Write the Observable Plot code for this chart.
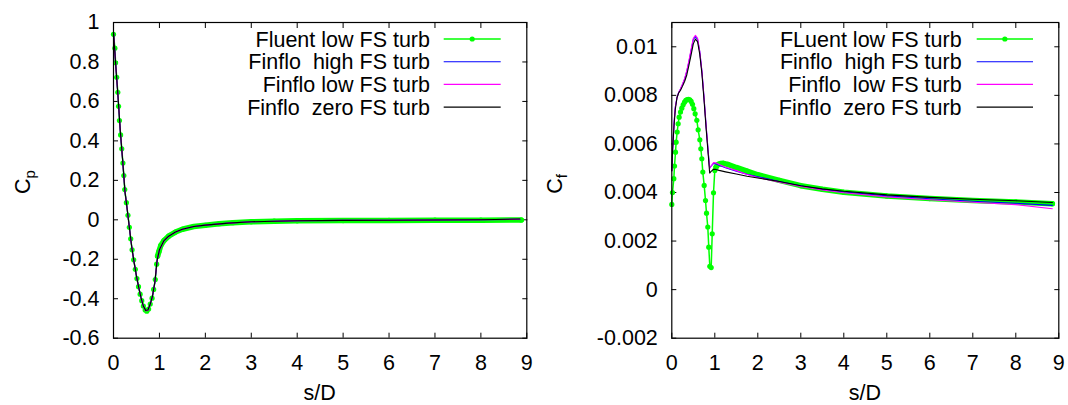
<!DOCTYPE html>
<html>
<head>
<meta charset="utf-8">
<script src="https://cdn.jsdelivr.net/npm/d3@7"></script>
<script src="https://cdn.jsdelivr.net/npm/@observablehq/plot@0.6"></script>
<style>
  html, body { margin: 0; padding: 0; background: #fff; }
  #charts { display: flex; width: 1068px; height: 405px; }
  svg text { white-space: pre; }
</style>
</head>
<body>
<div id="charts"></div>
<script>
// ---- axis ticks -------------------------------------------------------
const sTicks = [0, 1, 2, 3, 4, 5, 6, 7, 8, 9];
const cpTicks = [-0.6, -0.4, -0.2, 0, 0.2, 0.4, 0.6, 0.8, 1];
const cfTicks = [-0.002, 0, 0.002, 0.004, 0.006, 0.008, 0.01];

// ---- series names and colours -----------------------------------------
const cpNames = ["Fluent low FS turb", "Finflo  high FS turb", "Finflo low FS turb", "Finflo  zero FS turb"];
const cfNames = ["FLuent low FS turb", "Finflo  high FS turb", "Finflo  low FS turb", "Finflo  zero FS turb"];
const seriesColors = ["#00ff00", "#0000ff", "#ff00ff", "#000000"];

// ---- pressure coefficient, Fluent (low free-stream turbulence) -------
const fluentCpS = [0, 0.03, 0.045, 0.07, 0.094, 0.11, 0.13, 0.155, 0.18, 0.205,
  0.225, 0.245, 0.28, 0.315, 0.345, 0.375, 0.405, 0.44, 0.475, 0.51,
  0.545, 0.58, 0.615, 0.65, 0.69, 0.725, 0.765, 0.8, 0.84, 0.875,
  0.91, 0.94, 0.96, 0.99, 1.03, 1.1, 1.2, 1.35, 1.5, 1.75,
  2.0, 2.3, 2.6, 3.0, 3.5, 4.0, 5.0, 6.0, 7.0, 8.0, 8.88];
const fluentCp = [0.94, 0.87, 0.796, 0.722, 0.646, 0.575, 0.503, 0.43, 0.36, 0.288,
  0.224, 0.153, 0.087, 0.023, -0.038, -0.096, -0.152, -0.203, -0.251, -0.298,
  -0.339, -0.377, -0.41, -0.437, -0.457, -0.463, -0.452, -0.427, -0.397, -0.353,
  -0.303, -0.225, -0.184, -0.16, -0.13, -0.105, -0.083, -0.062, -0.048, -0.034,
  -0.028, -0.02, -0.015, -0.01, -0.007, -0.005, -0.004, -0.003, -0.002, -0.002, -0.001];

// ---- pressure coefficient, Finflo runs --------------------------------
const finfloCpS = [0, 0.05, 0.1, 0.15, 0.2, 0.25, 0.3, 0.35, 0.4, 0.45,
  0.5, 0.55, 0.6, 0.65, 0.7, 0.75, 0.8, 0.85, 0.9, 0.95,
  1.0, 1.1, 1.2, 1.35, 1.5, 1.75, 2.0, 2.5, 3.0, 3.5,
  4.0, 5.0, 6.0, 7.0, 8.0, 8.85];
const finfloCpHigh = [0.95, 0.78, 0.62, 0.445, 0.3, 0.143, 0.05, -0.048, -0.143, -0.217,
  -0.285, -0.344, -0.396, -0.437, -0.46, -0.458, -0.428, -0.386, -0.318, -0.206,
  -0.153, -0.106, -0.084, -0.062, -0.048, -0.034, -0.027, -0.017, -0.01, -0.007,
  -0.005, -0.003, -0.002, -0.001, 0.0, 0.003];
const finfloCpLow = [0.95, 0.78, 0.62, 0.445, 0.3, 0.143, 0.05, -0.048, -0.143, -0.217,
  -0.285, -0.344, -0.397, -0.438, -0.461, -0.459, -0.428, -0.386, -0.318, -0.206,
  -0.153, -0.106, -0.084, -0.062, -0.048, -0.034, -0.027, -0.017, -0.01, -0.007,
  -0.005, -0.003, -0.002, -0.001, 0.0, 0.003];
const finfloCpZero = [0.95, 0.78, 0.62, 0.445, 0.3, 0.143, 0.05, -0.048, -0.143, -0.217,
  -0.285, -0.344, -0.396, -0.437, -0.459, -0.457, -0.427, -0.385, -0.317, -0.205,
  -0.152, -0.105, -0.083, -0.062, -0.048, -0.034, -0.027, -0.017, -0.01, -0.007,
  -0.005, -0.003, -0.002, -0.001, 0.0, 0.004];

// ---- skin friction coefficient, Fluent --------------------------------
const fluentCfS = [0, 0.016, 0.047, 0.063, 0.086, 0.101, 0.125, 0.148, 0.171, 0.202,
  0.233, 0.264, 0.295, 0.326, 0.357, 0.388, 0.419, 0.45, 0.481, 0.512,
  0.543, 0.582, 0.613, 0.652, 0.675, 0.698, 0.721, 0.753, 0.784, 0.807,
  0.837, 0.86, 0.884, 0.916, 0.94, 0.97, 1.0, 1.03, 1.08, 1.13,
  1.2, 1.3, 1.5, 1.75, 2.0, 2.5, 3.0, 3.5, 4.0, 5.0,
  6.0, 7.0, 8.0, 8.85];
const fluentCf = [0.00351, 0.0040, 0.00457, 0.00509, 0.00566, 0.00607, 0.00649, 0.00683, 0.0071, 0.00731,
  0.00747, 0.00761, 0.00772, 0.00779, 0.00783, 0.00784, 0.00782, 0.00775, 0.00763, 0.00745,
  0.00724, 0.00697, 0.00658, 0.00617, 0.0058, 0.00539, 0.00484, 0.00429, 0.00367, 0.00315,
  0.00258, 0.00175, 0.00096, 0.00091, 0.0023, 0.00399, 0.00491, 0.00505, 0.00516, 0.00519,
  0.0052, 0.00516, 0.00503, 0.00488, 0.00473, 0.0045, 0.00428, 0.00413, 0.00401, 0.00386,
  0.00375, 0.00367, 0.00361, 0.00354];

// ---- skin friction coefficient, Finflo runs ---------------------------
const finfloCfS = [0, 0.02, 0.05, 0.08, 0.12, 0.16, 0.2, 0.25, 0.3, 0.35,
  0.4, 0.45, 0.5, 0.55, 0.6, 0.65, 0.7, 0.75, 0.8, 0.85,
  0.88, 0.92, 0.97, 1.02, 1.1, 1.25, 1.5, 1.75, 2.0, 2.5,
  3.0, 3.5, 4.0, 5.0, 6.0, 7.0, 8.0, 8.85];
const finfloCfHigh = [0.0049, 0.0058, 0.0068, 0.0075, 0.0079, 0.00812, 0.00825, 0.00845, 0.00868, 0.009,
  0.0094, 0.00985, 0.0103, 0.01042, 0.0103, 0.0098, 0.009, 0.0079, 0.0067, 0.0056,
  0.005, 0.0051, 0.0052, 0.00518, 0.00512, 0.00502, 0.00488, 0.00475, 0.00465, 0.00445,
  0.00428, 0.00413, 0.00402, 0.00386, 0.00374, 0.00364, 0.00356, 0.00347];
const finfloCfLow = [0.0049, 0.0058, 0.0068, 0.0075, 0.0079, 0.00812, 0.00826, 0.00847, 0.0087, 0.00903,
  0.00944, 0.0099, 0.01035, 0.01047, 0.01035, 0.0098, 0.009, 0.0079, 0.0067, 0.0056,
  0.005, 0.0051, 0.00523, 0.00522, 0.00515, 0.00504, 0.0049, 0.00474, 0.00462, 0.00442,
  0.00425, 0.0041, 0.00399, 0.00382, 0.0037, 0.0036, 0.0035, 0.00333];
const finfloCfZero = [0.0049, 0.0058, 0.0067, 0.0074, 0.0079, 0.0081, 0.0082, 0.00838, 0.00858, 0.00885,
  0.00925, 0.00968, 0.01012, 0.01032, 0.0102, 0.0097, 0.0089, 0.0078, 0.0066, 0.0055,
  0.0048, 0.00488, 0.00495, 0.00495, 0.00491, 0.00485, 0.00476, 0.00467, 0.0046, 0.00445,
  0.00428, 0.00415, 0.00405, 0.0039, 0.0038, 0.00372, 0.00366, 0.00359];

// ---- helpers ------------------------------------------------------------
const FONT = "'Liberation Sans', Arial, Helvetica, sans-serif";
const FS = 21.5;
const pairs = (xs, ys) => xs.map((s, i) => ({s, v: ys[i]}));

function panel(o) {
  const fluent = pairs(o.fluentS, o.fluentV);
  // downstream of the first wall the Fluent grid is so fine that the markers merge into a band
  const fluentDense = fluent.filter(d => d.s >= o.denseFrom);
  const runs = o.runs.map(v => pairs(o.runS, v));
  const svg = Plot.plot({
    width: o.width,
    height: 405,
    marginLeft: o.marginLeft,
    marginRight: o.marginRight,
    marginTop: 22,
    marginBottom: 67.3,
    style: {fontFamily: FONT, fontSize: FS + "px", color: "#000", background: "#fff", overflow: "visible"},
    x: {domain: [0, 9]},
    y: {domain: o.yDomain},
    marks: [
      // inward ticks mirrored on all four sides
      Plot.axisX({anchor: "bottom", ticks: sTicks, tickSize: -5, fill: null, label: null}),
      Plot.axisX({anchor: "top", ticks: sTicks, tickSize: -5, fill: null, label: null}),
      Plot.axisY({anchor: "left", ticks: o.yTicks, tickSize: -5, fill: null, label: null}),
      Plot.axisY({anchor: "right", ticks: o.yTicks, tickSize: -5, fill: null, label: null}),
      // tick labels
      Plot.axisX({anchor: "bottom", ticks: sTicks, tickSize: 0, tickPadding: 16.5,
        tickFormat: d => String(d), label: null}),
      Plot.axisY({anchor: "left", ticks: o.yTicks, tickSize: 0, tickPadding: 14,
        tickFormat: d => String(d), label: null}),
      // Fluent: points joined by a line
      Plot.line(fluentDense, {x: "s", y: "v", stroke: seriesColors[0], strokeWidth: 5.5}),
      Plot.line(fluent, {x: "s", y: "v", stroke: seriesColors[0], strokeWidth: 1.5}),
      Plot.dot(fluent, {x: "s", y: "v", r: 2.6, fill: seriesColors[0], stroke: null}),
      // Finflo runs
      ...runs.map((data, i) => Plot.line(data, {x: "s", y: "v", stroke: seriesColors[i + 1], strokeWidth: 1.1})),
      Plot.frame({stroke: "#000", strokeWidth: 1.2})
    ]
  });

  const root = d3.select(svg);
  const xs = svg.scale("x");

  // x title, centred under the frame
  root.append("text")
    .attr("font-family", FONT).attr("font-size", FS).attr("fill", "#000")
    .attr("text-anchor", "middle")
    .attr("x", (xs.apply(0) + xs.apply(9)) / 2).attr("y", 400)
    .text("s/D");

  // key, top right inside the frame
  const key = root.append("g").attr("font-family", FONT).attr("font-size", FS).attr("fill", "#000");
  o.names.forEach((name, i) => {
    const y = 39 + i * 22.7;
    key.append("text")
      .attr("x", o.keyTextEnd).attr("y", y).attr("dy", "0.35em")
      .attr("text-anchor", "end").attr("xml:space", "preserve")
      .text(name);
    key.append("line")
      .attr("x1", o.keyX1).attr("x2", o.keyX2).attr("y1", y).attr("y2", y)
      .attr("stroke", seriesColors[i]).attr("stroke-width", i === 0 ? 1.5 : 1.1);
    if (i === 0) {
      key.append("circle").attr("cx", (o.keyX1 + o.keyX2) / 2).attr("cy", y)
        .attr("r", 2.6).attr("fill", seriesColors[0]);
    }
  });

  // rotated y title with subscript
  const t = root.append("text")
    .attr("font-family", FONT).attr("font-size", FS).attr("fill", "#000")
    .attr("text-anchor", "middle")
    .attr("transform", `translate(${o.yTitleX},${o.yTitleY}) rotate(-90)`);
  t.append("tspan").text("C");
  t.append("tspan").attr("font-size", 15).attr("dy", 5).text(o.sub);

  return svg;
}

const host = document.getElementById("charts");

host.appendChild(panel({
  width: 540, marginLeft: 113, marginRight: 13.7,
  yDomain: [-0.6, 1], yTicks: cpTicks,
  fluentS: fluentCpS, fluentV: fluentCp, denseFrom: 0.96,
  runS: finfloCpS, runs: [finfloCpHigh, finfloCpLow, finfloCpZero],
  names: cpNames, keyTextEnd: 430, keyX1: 443.7, keyX2: 500.7,
  yTitleX: 30, yTitleY: 182, sub: "p"
}));

host.appendChild(panel({
  width: 528, marginLeft: 131.3, marginRight: 9.7,
  yDomain: [-0.002, 0.011], yTicks: cfTicks,
  fluentS: fluentCfS, fluentV: fluentCf, denseFrom: 1.03,
  runS: finfloCfS, runs: [finfloCfHigh, finfloCfLow, finfloCfZero],
  names: cfNames, keyTextEnd: 421.6, keyX1: 436.7, keyX2: 493,
  yTitleX: 21.5, yTitleY: 184, sub: "f"
}));
</script>
</body>
</html>
